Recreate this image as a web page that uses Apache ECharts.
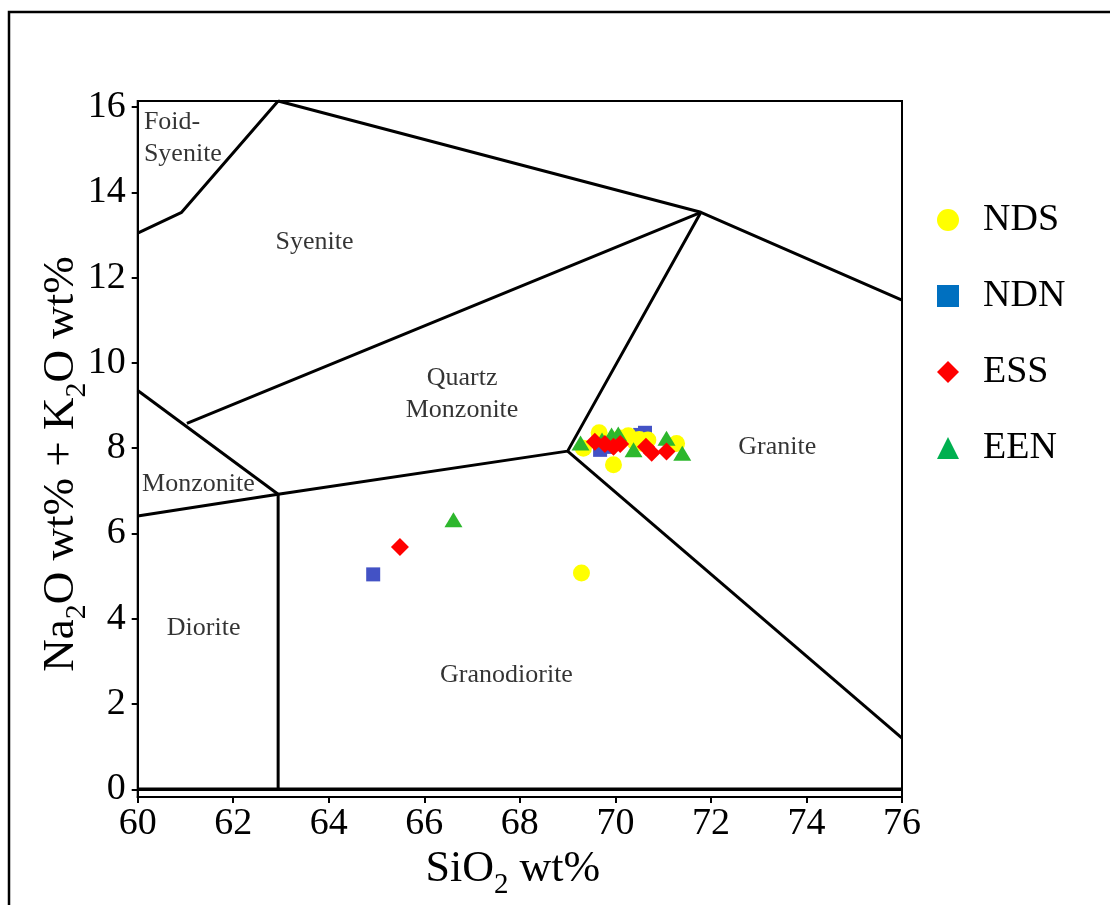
<!DOCTYPE html>
<html><head><meta charset="utf-8">
<script src="https://cdn.jsdelivr.net/npm/echarts@6/dist/echarts.min.js"></script>
<style>html,body{margin:0;padding:0;background:#fff}#c{width:1110px;height:905px}</style>
</head><body><div id="c"></div>
<script>
// ---- data ----
const seriesNames = ['NDS', 'NDN', 'ESS', 'EEN'];
const ndsData = [[69.66,8.36],[69.33,8.00],[69.96,7.61],[70.27,8.29],[70.41,8.15],[70.58,8.11],[71.28,8.11],[70.10,8.24],[70.68,8.19],[70.50,8.20],[69.29,5.07]];
const ndnData = [[69.68,7.96],[70.52,8.31],[70.62,8.36],[69.85,8.03],[64.93,5.04]];
const essData = [[69.57,8.15],[69.78,8.10],[69.96,8.03],[70.10,8.10],[70.64,8.03],[70.76,7.89],[71.07,7.92],[65.49,5.68]];
const eenData = [[69.27,8.12],[69.92,8.31],[70.06,8.33],[70.38,7.96],[71.07,8.23],[71.40,7.88],[69.72,8.19],[66.61,6.32]];
const xTickValues = [60, 62, 64, 66, 68, 70, 72, 74, 76];
const yTickValues = [0, 2, 4, 6, 8, 10, 12, 14, 16];
// field boundaries (SiO2, Na2O+K2O)
const lineFoid = [[60,13.04],[60.92,13.53],[62.94,16.14]];
const lineTop = [[62.94,16.14],[71.79,13.53],[76,11.47]];
const lineSyenite = [[61.03,8.58],[71.79,13.53]];
const lineMonzUpper = [[60,9.35],[62.94,6.92]];
const lineLower = [[60,6.41],[62.94,6.92],[69.0,7.93],[71.79,13.53]];
const lineDiorite = [[62.94,6.92],[62.94,0]];
const lineGranite = [[69.0,7.93],[76,1.20]];
const lineZero = [[60,0],[76,0]];
const regionLabels = [
  {name:'Foid-\nSyenite', value:[60.13,15.26], align:'left'},
  {name:'Syenite', value:[63.70,12.84]},
  {name:'Quartz\nMonzonite', value:[66.79,9.27]},
  {name:'Granite', value:[73.39,8.03]},
  {name:'Monzonite', value:[61.27,7.16]},
  {name:'Diorite', value:[61.38,3.78]},
  {name:'Granodiorite', value:[67.72,2.68]}
];
const plotColors = ['#FFFF00', '#4352C5', '#FF0000', '#2DB72D'];
const legendColors = ['#FFFF00', '#0070C0', '#FF0000', '#00B050'];
const symbols = ['circle', 'rect', 'diamond', 'triangle'];

const FONT = "'Liberation Serif', 'Times New Roman', serif";
const chart = echarts.init(document.getElementById('c'), null, {renderer: 'canvas'});

function boundary(data, w) {
  return {type:'line', data: data, symbol:'none', showSymbol:false, silent:true, z:1,
    lineStyle:{color:'#000', width: w || 3}, itemStyle:{color:'#000'}, animation:false, clip:false};
}
const pointSeries = [ndsData, ndnData, essData, eenData].map((d, i) => ({
  name: seriesNames[i], type:'scatter', data: d, symbol: symbols[i],
  symbolSize: [17, 14, 18, [18, 15]][i], z: [3, 2, 5, 4][i],
  itemStyle: {color: plotColors[i], opacity: 1}, animation:false
}));

const option = {
  animation: false,
  backgroundColor: '#fff',
  grid: {left: 137.7, top: 101, width: 764.3, height: 696, show: true, borderColor: '#000', borderWidth: 2,
         containLabel: false, outerBoundsMode: 'none'},
  xAxis: {
    type:'value', min: 60, max: 76, interval: 2,
    name: '{n|SiO}{s|2}{n| wt%}', nameLocation:'middle', nameGap: 44,
    nameTextStyle: {padding:[0,14,0,0], rich: {n: {fontSize: 44, fontFamily: FONT, color:'#000', lineHeight: 48},
                           s: {fontSize: 29, fontFamily: FONT, color:'#000', lineHeight: 48, verticalAlign:'bottom', padding:[0,0,-6,0]}}},
    axisLine: {show:true, onZero:false, lineStyle:{color:'#000', width:2}},
    axisTick: {show:true, length:6, lineStyle:{color:'#000', width:2}},
    axisLabel: {fontSize: 38, fontFamily: FONT, color:'#000', margin: 8},
    splitLine: {show:false}
  },
  yAxis: {
    type:'value', min: -0.18, max: 16.14,
    name: '{n|Na}{s|2}{n|O wt% + K}{s|2}{n|O wt%}', nameLocation:'middle', nameGap: 52, nameRotate: 90,
    nameMoveOverlap: false,
    nameTextStyle: {padding:[0,30,0,0], rich: {n: {fontSize: 45, fontFamily: FONT, color:'#000', lineHeight: 50},
                           s: {fontSize: 30, fontFamily: FONT, color:'#000', lineHeight: 50, verticalAlign:'bottom', padding:[0,0,-6,0]}}},
    axisLine: {show:true, onZero:false, lineStyle:{color:'#000', width:2}},
    axisTick: {show:true, length:6, customValues: yTickValues, lineStyle:{color:'#000', width:2}},
    axisLabel: {fontSize: 38, fontFamily: FONT, color:'#000', margin: 12, customValues: yTickValues},
    splitLine: {show:false}
  },
  legend: {
    orient:'vertical', left: 937, top: 200, itemWidth: 22, itemHeight: 22, itemGap: 36, padding: 0,
    selectedMode: false,
    textStyle: {fontSize: 38, fontFamily: FONT, color:'#000', lineHeight: 40, padding:[0,0,0,19]},
    data: seriesNames.map((n, i) => ({name: n, icon: symbols[i], itemStyle: {color: legendColors[i]}}))
  },
  graphic: [{type:'rect', shape:{x:9, y:12, width:1120, height:920}, style:{fill:'none', stroke:'#000', lineWidth:2.5}, silent:true}],
  series: [
    boundary(lineFoid), boundary(lineTop), boundary(lineSyenite), boundary(lineMonzUpper),
    boundary(lineLower), boundary(lineDiorite), boundary(lineGranite), boundary(lineZero, 3.5),
    {type:'scatter', data: regionLabels.map(r => ({name: r.name, value: r.value,
        label: {align: r.align || 'center', color:'#000'}})),
     symbolSize: 0, silent: true, z: 6, animation:false,
     label: {show:true, position:'inside', formatter: p => p.name, fontSize: 26, fontFamily: FONT, color:'#000', lineHeight: 32, textBorderWidth: 0}},
    ...pointSeries
  ]
};
chart.setOption(option);
</script>
</body></html>
